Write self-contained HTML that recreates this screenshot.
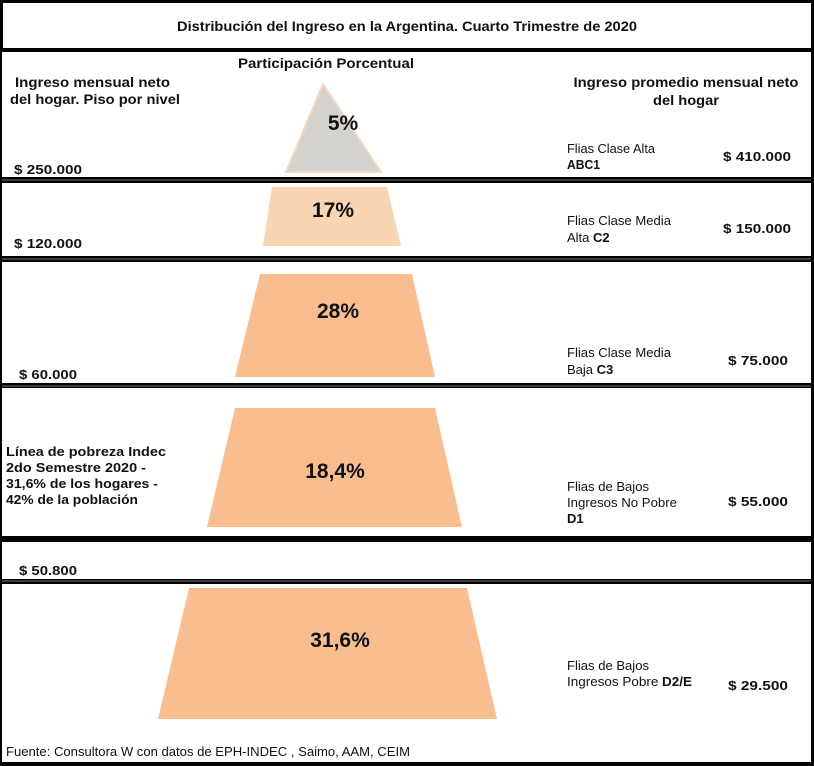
<!DOCTYPE html>
<html><head><meta charset="utf-8"><style>
html,body{margin:0;padding:0;background:#000;}
svg{display:block;}
text{font-family:"Liberation Sans",sans-serif;fill:#111;}
.b{font-weight:bold;}
</style></head><body>
<svg width="814" height="766" viewBox="0 0 814 766">
<rect width="814" height="766" fill="#000"/>
<rect x="3" y="3" width="808" height="45" fill="#fff"/>
<rect x="2" y="52" width="809" height="125" fill="#fff"/>
<rect x="2" y="183" width="809" height="73" fill="#fff"/>
<rect x="2" y="262" width="809" height="121" fill="#fff"/>
<rect x="2" y="388" width="809" height="148" fill="#fff"/>
<rect x="2" y="542" width="809" height="37" fill="#fff"/>
<rect x="2" y="584" width="809" height="178" fill="#fff"/>
<line x1="2" y1="180" x2="811" y2="180" stroke="#777" stroke-width="1"/>
<line x1="2" y1="259" x2="811" y2="259" stroke="#777" stroke-width="1"/>
<line x1="2" y1="386" x2="811" y2="386" stroke="#777" stroke-width="1"/>
<line x1="2" y1="581" x2="811" y2="581" stroke="#777" stroke-width="1"/>

<text x="407" y="31" text-anchor="middle" font-size="14" class="b" textLength="460" lengthAdjust="spacingAndGlyphs">Distribución del Ingreso en la Argentina. Cuarto Trimestre de 2020</text>
<text x="326" y="68" text-anchor="middle" font-size="14" class="b" textLength="176" lengthAdjust="spacingAndGlyphs">Participación Porcentual</text>
<text x="15" y="87" font-size="14" class="b" textLength="155" lengthAdjust="spacingAndGlyphs">Ingreso mensual neto</text>
<text x="10" y="104" font-size="14" class="b" textLength="170" lengthAdjust="spacingAndGlyphs">del hogar. Piso por nivel</text>
<text x="686" y="87" text-anchor="middle" font-size="14" class="b" textLength="225" lengthAdjust="spacingAndGlyphs">Ingreso promedio mensual neto</text>
<text x="686" y="105" text-anchor="middle" font-size="14" class="b" textLength="66" lengthAdjust="spacingAndGlyphs">del hogar</text>

<polygon points="323,84 286,172 381,172" fill="#d4d2cf" stroke="#f6d8bd" stroke-width="2"/>
<text x="343" y="130" text-anchor="middle" font-size="21" class="b" fill="#222">5%</text>
<text x="14" y="174" font-size="13" class="b" textLength="68" lengthAdjust="spacingAndGlyphs">$ 250.000</text>
<text x="567" y="153" font-size="13" textLength="88" lengthAdjust="spacingAndGlyphs">Flias Clase Alta</text>
<text x="567" y="169" font-size="13" class="b" textLength="33" lengthAdjust="spacingAndGlyphs">ABC1</text>
<text x="723" y="161" font-size="13" class="b" textLength="68" lengthAdjust="spacingAndGlyphs">$ 410.000</text>

<polygon points="272,187 387,187 401,246 263,246" fill="#f9d5b4"/>
<text x="333" y="217" text-anchor="middle" font-size="21" class="b" fill="#222">17%</text>
<text x="14" y="248" font-size="13" class="b" textLength="68" lengthAdjust="spacingAndGlyphs">$ 120.000</text>
<text x="567" y="225" font-size="13" textLength="104" lengthAdjust="spacingAndGlyphs">Flias Clase Media</text>
<text x="567" y="242" font-size="13">Alta <tspan class="b">C2</tspan></text>
<text x="723" y="233" font-size="13" class="b" textLength="68" lengthAdjust="spacingAndGlyphs">$ 150.000</text>

<polygon points="260,274 412,274 435,377 235,377" fill="#f8be90"/>
<text x="338" y="318" text-anchor="middle" font-size="21" class="b" fill="#222">28%</text>
<text x="19" y="379" font-size="13" class="b" textLength="58" lengthAdjust="spacingAndGlyphs">$ 60.000</text>
<text x="567" y="357" font-size="13" textLength="104" lengthAdjust="spacingAndGlyphs">Flias Clase Media</text>
<text x="567" y="374" font-size="13">Baja <tspan class="b">C3</tspan></text>
<text x="728" y="365" font-size="13" class="b" textLength="60" lengthAdjust="spacingAndGlyphs">$ 75.000</text>

<polygon points="235,408 435,408 462,527 207,527" fill="#f8be90"/>
<text x="335" y="478" text-anchor="middle" font-size="21" class="b" fill="#222">18,4%</text>
<text x="6" y="456" font-size="13" class="b" textLength="160" lengthAdjust="spacingAndGlyphs">Línea de pobreza Indec</text>
<text x="6" y="472" font-size="13" class="b" textLength="140" lengthAdjust="spacingAndGlyphs">2do Semestre 2020 -</text>
<text x="6" y="488" font-size="13" class="b" textLength="152" lengthAdjust="spacingAndGlyphs">31,6% de los hogares -</text>
<text x="6" y="504" font-size="13" class="b" textLength="132" lengthAdjust="spacingAndGlyphs">42% de la población</text>
<text x="567" y="491" font-size="13" textLength="82" lengthAdjust="spacingAndGlyphs">Flias de Bajos</text>
<text x="567" y="507" font-size="13" textLength="110" lengthAdjust="spacingAndGlyphs">Ingresos No Pobre</text>
<text x="567" y="523" font-size="13" class="b">D1</text>
<text x="728" y="506" font-size="13" class="b" textLength="60" lengthAdjust="spacingAndGlyphs">$ 55.000</text>

<text x="19" y="575" font-size="13" class="b" textLength="58" lengthAdjust="spacingAndGlyphs">$ 50.800</text>

<polygon points="189,588 467,588 497,719 158,719" fill="#f8be90"/>
<text x="340" y="647" text-anchor="middle" font-size="21" class="b" fill="#222">31,6%</text>
<text x="567" y="670" font-size="13" textLength="82" lengthAdjust="spacingAndGlyphs">Flias de Bajos</text>
<text x="567" y="686" font-size="13" textLength="125" lengthAdjust="spacingAndGlyphs">Ingresos Pobre <tspan class="b">D2/E</tspan></text>
<text x="728" y="690" font-size="13" class="b" textLength="60" lengthAdjust="spacingAndGlyphs">$ 29.500</text>

<text x="6" y="756" font-size="13" textLength="404" lengthAdjust="spacingAndGlyphs">Fuente: Consultora W con datos de EPH-INDEC , Saimo, AAM, CEIM</text>
</svg>
</body></html>
